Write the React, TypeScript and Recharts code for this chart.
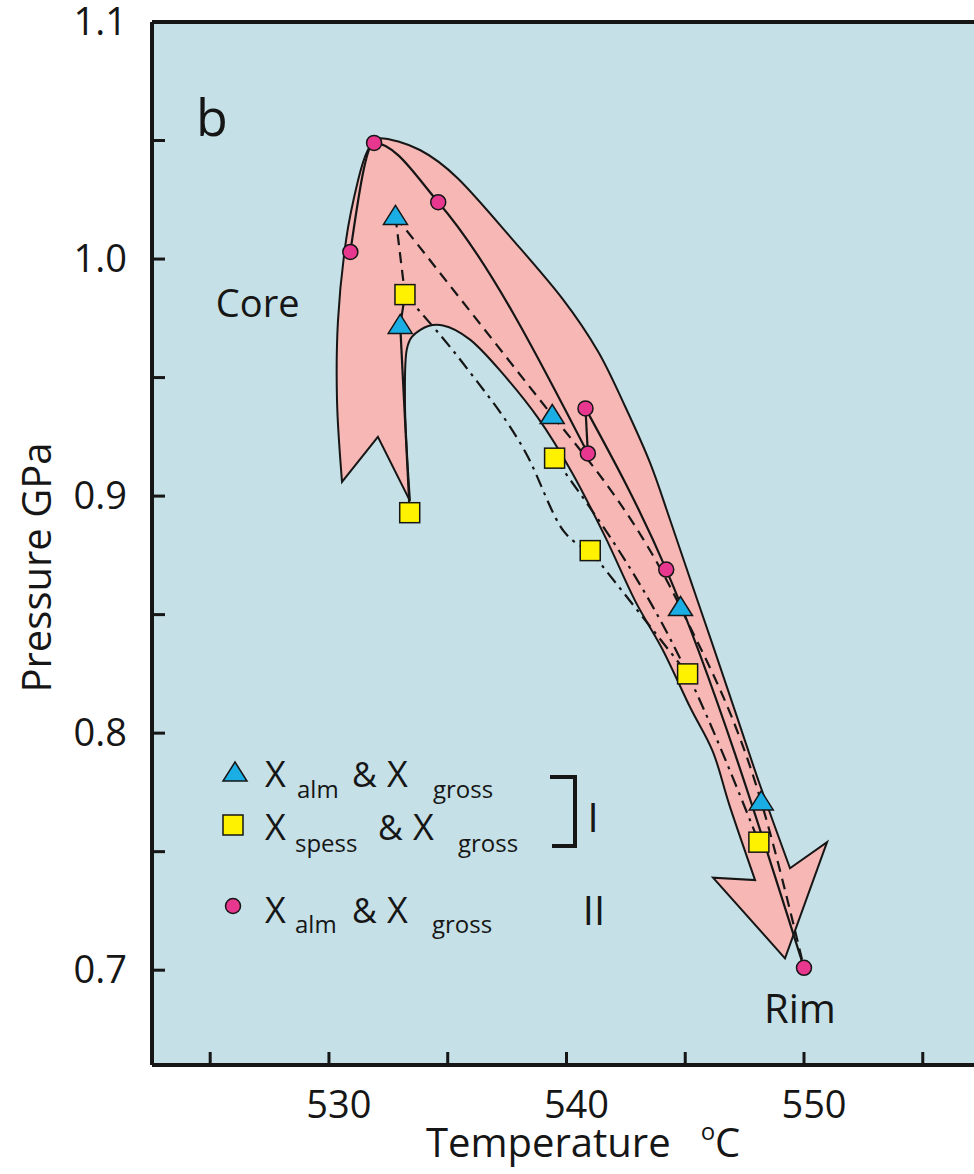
import { ComposedChart, Scatter, XAxis, YAxis, CartesianGrid, ReferenceDot, Legend } from "recharts";

type Pt = { t: number; p: number };

const tempTicks = [525, 530, 535, 540, 545, 550, 555];
const tempLabels = [530, 540, 550];
const pressTicks = [0.7, 0.75, 0.8, 0.85, 0.9, 0.95, 1.0, 1.05, 1.1];
const pressLabels = [0.7, 0.8, 0.9, 1.0, 1.1];

// group I, X alm & X gross (triangles)
const almGrossI: Pt[] = [
  { t: 532.8, p: 1.018 },
  { t: 533.0, p: 0.972 },
  { t: 539.4, p: 0.934 },
  { t: 544.8, p: 0.853 },
  { t: 548.2, p: 0.771 },
];

// group I, X spess & X gross (squares)
const spessGrossI: Pt[] = [
  { t: 533.2, p: 0.985 },
  { t: 533.4, p: 0.893 },
  { t: 539.5, p: 0.916 },
  { t: 541.0, p: 0.877 },
  { t: 545.1, p: 0.825 },
  { t: 548.1, p: 0.754 },
];

// group II, X alm & X gross (circles)
const almGrossII: Pt[] = [
  { t: 530.9, p: 1.003 },
  { t: 531.9, p: 1.049 },
  { t: 534.6, p: 1.024 },
  { t: 540.8, p: 0.937 },
  { t: 540.9, p: 0.918 },
  { t: 544.2, p: 0.869 },
  { t: 550.0, p: 0.701 },
];

// where the dash-dot path bends under the arrow
const spessBend: Pt[] = [
  { t: 535.8, p: 0.954 },
  { t: 538.3, p: 0.918 },
  { t: 539.9, p: 0.885 },
];

// outline of the P-T arrow, clockwise from the top
const arrowOutline: Pt[] = [
  { t: 532.15, p: 1.051 },
  { t: 533.83, p: 1.046 },
  { t: 535.43, p: 1.034 },
  { t: 537.75, p: 1.008 },
  { t: 539.85, p: 0.983 },
  { t: 541.33, p: 0.961 },
  { t: 542.46, p: 0.938 },
  { t: 543.52, p: 0.914 },
  { t: 544.36, p: 0.890 },
  { t: 545.24, p: 0.864 },
  { t: 546.13, p: 0.838 },
  { t: 547.14, p: 0.808 },
  { t: 548.15, p: 0.778 },
  { t: 549.41, p: 0.743 },
  { t: 550.97, p: 0.754 },
  { t: 549.2, p: 0.705 },
  { t: 546.17, p: 0.739 },
  { t: 547.94, p: 0.738 },
  { t: 546.88, p: 0.769 },
  { t: 546.17, p: 0.792 },
  { t: 545.2, p: 0.811 },
  { t: 544.06, p: 0.835 },
  { t: 542.88, p: 0.856 },
  { t: 541.62, p: 0.883 },
  { t: 540.23, p: 0.910 },
  { t: 538.8, p: 0.933 },
  { t: 537.2, p: 0.953 },
  { t: 535.94, p: 0.966 },
  { t: 534.8, p: 0.972 },
  { t: 533.83, p: 0.970 },
  { t: 533.28, p: 0.962 },
  { t: 533.2, p: 0.940 },
  { t: 533.28, p: 0.919 },
  { t: 533.41, p: 0.898 },
  { t: 532.06, p: 0.925 },
  { t: 530.55, p: 0.906 },
  { t: 530.34, p: 0.940 },
  { t: 530.38, p: 0.974 },
  { t: 530.72, p: 1.008 },
  { t: 531.22, p: 1.033 },
  { t: 531.64, p: 1.046 },
];
const arrowCorners = [13, 14, 15, 16, 17, 33, 34, 35];

const solidPaths: Pt[][] = [
  [almGrossII[0], almGrossII[1], almGrossII[2], almGrossII[4]],
  [almGrossII[3], almGrossII[4]],
  [almGrossII[3], almGrossII[5], almGrossII[6]],
  [spessGrossI[0], almGrossI[1]],
  [almGrossI[1], spessGrossI[1]],
];
const dashedPaths: Pt[][] = [
  [almGrossI[0], spessGrossI[0]],
  [almGrossI[0], almGrossI[2]],
  [almGrossI[2], almGrossI[3], almGrossI[4], almGrossII[6]],
];
const dashDotPaths: Pt[][] = [
  [spessGrossI[0], ...spessBend, spessGrossI[3]],
  [spessGrossI[2], spessGrossI[4], spessGrossI[5]],
  [spessGrossI[3], spessGrossI[4]],
];

const INK = "#161616";
const BG = "#c5e0e6";
const PINK = "#f7b8b5";
const BLUE = "#1aaee5";
const YELLOW = "#fff200";
const MAGENTA = "#e8378f";
const FONT = "'Open Sans', 'Noto Sans', sans-serif";

const T_DOMAIN: [number, number] = [522.55, 557.62];
const P_DOMAIN: [number, number] = [0.66, 1.1];

// smooth closed path, sharp at the arrow tips and notches
function arrowPath(pts: { x: number; y: number }[]) {
  const n = pts.length;
  if (!n) return "";
  const at = (i: number) => pts[(i + n) % n];
  const sharp = (i: number) => arrowCorners.includes((i + n) % n);
  let d = `M${pts[0].x},${pts[0].y}`;
  for (let i = 0; i < n; i++) {
    const p0 = at(i - 1), p1 = at(i), p2 = at(i + 1), p3 = at(i + 2);
    const c1 = sharp(i) ? p1 : { x: p1.x + (p2.x - p0.x) / 6, y: p1.y + (p2.y - p0.y) / 6 };
    const c2 = sharp(i + 1) ? p2 : { x: p2.x - (p3.x - p1.x) / 6, y: p2.y - (p3.y - p1.y) / 6 };
    d += ` C${c1.x},${c1.y} ${c2.x},${c2.y} ${p2.x},${p2.y}`;
  }
  return d + " Z";
}

const hidden = () => <g />;

const triangleAt = (cx: number, cy: number) => (
  <polygon points={`${cx},${cy - 11} ${cx + 12},${cy + 8} ${cx - 12},${cy + 8}`} fill={BLUE} stroke={INK} strokeWidth={1.5} />
);
const squareAt = (cx: number, cy: number) => (
  <rect x={cx - 10} y={cy - 10} width={20} height={20} fill={YELLOW} stroke={INK} strokeWidth={1.5} />
);
const circleAt = (cx: number, cy: number) => <circle cx={cx} cy={cy} r={7.5} fill={MAGENTA} stroke={INK} strokeWidth={1.5} />;

const TriangleShape = (props: any) => triangleAt(props.cx, props.cy);
const SquareShape = (props: any) => squareAt(props.cx, props.cy);
const CircleShape = (props: any) => circleAt(props.cx, props.cy);

const XTick = (props: any) => {
  const { x, y, payload } = props;
  if (!tempLabels.includes(payload.value)) return <g />;
  return (
    <text x={x + 10} y={y + 28} textAnchor="middle" fontSize={38} fill={INK} fontFamily={FONT}>
      {payload.value}
    </text>
  );
};

const YTick = (props: any) => {
  const { x, y, payload } = props;
  if (!pressLabels.some((v) => Math.abs(v - payload.value) < 1e-6)) return <g />;
  return (
    <text x={x} y={y + 13} textAnchor="end" fontSize={38} fill={INK} fontFamily={FONT}>
      {Number(payload.value).toFixed(1)}
    </text>
  );
};

const TempTitle = (props: any) => {
  const vb = props.viewBox || { x: 152, y: 1065 };
  return (
    <text x={vb.x + 274} y={vb.y + 92} fontSize={40} fill={INK} fontFamily={FONT}>
      Temperature
      <tspan dx={30} dy={-17} fontSize={24}>o</tspan>
      <tspan dy={17} fontSize={40}>C</tspan>
    </text>
  );
};

const PressTitle = (props: any) => {
  const vb = props.viewBox || { x: 0, y: 22, height: 1043 };
  const cx = vb.x + 35;
  const cy = vb.y + vb.height / 2 + 24;
  return (
    <text x={cx} y={cy} transform={`rotate(-90 ${cx} ${cy})`} textAnchor="middle" dominantBaseline="central" fontSize={40} fill={INK} fontFamily={FONT}>
      Pressure GPa
    </text>
  );
};

const LegendBox = () => (
  <svg width={460} height={220} style={{ overflow: "visible", fontFamily: FONT }}>
    {triangleAt(55, 33)}
    <text x={85} y={47} fontSize={36} fill={INK}>X</text>
    <text x={117} y={58} fontSize={24} fill={INK}>alm</text>
    <text x={172} y={47} fontSize={34} fill={INK}>&amp;</text>
    <text x={207} y={47} fontSize={36} fill={INK}>X</text>
    <text x={253} y={58} fontSize={24} fill={INK}>gross</text>

    {squareAt(53, 85)}
    <text x={85} y={100} fontSize={36} fill={INK}>X</text>
    <text x={115} y={112} fontSize={24} fill={INK}>spess</text>
    <text x={198} y={100} fontSize={34} fill={INK}>&amp;</text>
    <text x={233} y={100} fontSize={36} fill={INK}>X</text>
    <text x={278} y={112} fontSize={24} fill={INK}>gross</text>

    {circleAt(53, 166)}
    <text x={85} y={183} fontSize={36} fill={INK}>X</text>
    <text x={115} y={193} fontSize={24} fill={INK}>alm</text>
    <text x={172} y={183} fontSize={34} fill={INK}>&amp;</text>
    <text x={207} y={183} fontSize={36} fill={INK}>X</text>
    <text x={252} y={193} fontSize={24} fill={INK}>gross</text>

    <path d="M370,37 H395 V106 H372" fill="none" stroke={INK} strokeWidth={4} />
    <text x={413} y={92} textAnchor="middle" fontSize={40} fill={INK}>I</text>
    <text x={414} y={185} textAnchor="middle" fontSize={40} fill={INK}>II</text>
  </svg>
);

const lineStyle = (dash?: string) => ({ stroke: INK, strokeWidth: 2.2, strokeDasharray: dash, fill: "none" });

export default function PTPathChart() {
  const axisLine = { stroke: INK, strokeWidth: 4 };
  const tickLine = { stroke: INK, strokeWidth: 3 };

  return (
    <div style={{ position: "absolute", left: 0, top: 0, width: 974, height: 1174, overflow: "hidden", background: "#fff" }}>
      <ComposedChart width={1000} height={1174} margin={{ top: 0, right: 0, bottom: 0, left: 0 }} style={{ fontFamily: FONT }}>
        <CartesianGrid xAxisId="b" yAxisId="l" fill={BG} stroke="none" horizontal={false} vertical={false} />
        <XAxis
          xAxisId="b" orientation="bottom" type="number" dataKey="t" domain={T_DOMAIN} allowDataOverflow
          ticks={tempTicks} interval={0} height={109} tickSize={-13} tickMargin={38}
          axisLine={axisLine} tickLine={tickLine} tick={XTick} label={{ content: TempTitle }}
        />
        <XAxis
          xAxisId="t" orientation="top" type="number" dataKey="t" domain={T_DOMAIN} allowDataOverflow
          ticks={tempTicks} interval={0} height={22} tickSize={-13} axisLine={axisLine} tickLine={tickLine} tick={false}
        />
        <YAxis
          yAxisId="l" orientation="left" type="number" dataKey="p" domain={P_DOMAIN} allowDataOverflow
          ticks={pressTicks} interval={0} width={152} tickSize={-13} tickMargin={38}
          axisLine={axisLine} tickLine={tickLine} tick={YTick} label={{ content: PressTitle }}
        />
        <YAxis
          yAxisId="r" orientation="right" type="number" dataKey="p" domain={P_DOMAIN} allowDataOverflow
          ticks={pressTicks} interval={0} width={15} tickSize={-13} axisLine={axisLine} tickLine={tickLine} tick={false}
        />

        <Scatter
          xAxisId="b" yAxisId="l" data={arrowOutline} shape={hidden} legendType="none" isAnimationActive={false}
          line={(lp: any) => <path d={arrowPath(lp.points || [])} fill={PINK} stroke={INK} strokeWidth={2} strokeLinejoin="miter" />}
        />

        {solidPaths.map((path, i) => (
          <Scatter key={`s${i}`} xAxisId="b" yAxisId="l" data={path} shape={hidden} legendType="none" isAnimationActive={false}
            line={lineStyle()} lineJointType={path.length > 2 ? "monotoneX" : "linear"} />
        ))}
        {dashedPaths.map((path, i) => (
          <Scatter key={`d${i}`} xAxisId="b" yAxisId="l" data={path} shape={hidden} legendType="none" isAnimationActive={false}
            line={lineStyle("11 7")} lineJointType={path.length > 2 ? "monotoneX" : "linear"} />
        ))}
        {dashDotPaths.map((path, i) => (
          <Scatter key={`dd${i}`} xAxisId="b" yAxisId="l" data={path} shape={hidden} legendType="none" isAnimationActive={false}
            line={lineStyle("13 6 3 6")} lineJointType={path.length > 2 ? "monotoneX" : "linear"} />
        ))}

        <Scatter name="Xspess & Xgross I" xAxisId="b" yAxisId="l" data={spessGrossI} shape={SquareShape} legendType="square" isAnimationActive={false} />
        <Scatter name="Xalm & Xgross I" xAxisId="b" yAxisId="l" data={almGrossI} shape={TriangleShape} legendType="triangle" isAnimationActive={false} />
        <Scatter name="Xalm & Xgross II" xAxisId="b" yAxisId="l" data={almGrossII} shape={CircleShape} legendType="circle" isAnimationActive={false} />

        <ReferenceDot xAxisId="b" yAxisId="l" x={525.07} y={1.0595} r={0} fill="none" stroke="none"
          label={{ value: "b", position: "center", fontSize: 52, fill: INK, fontFamily: FONT }} />
        <ReferenceDot xAxisId="b" yAxisId="l" x={527.0} y={0.9814} r={0} fill="none" stroke="none"
          label={{ value: "Core", position: "center", fontSize: 38, fill: INK, fontFamily: FONT }} />
        <ReferenceDot xAxisId="b" yAxisId="l" x={549.83} y={0.6835} r={0} fill="none" stroke="none"
          label={{ value: "Rim", position: "center", fontSize: 40, fill: INK, fontFamily: FONT }} />

        <Legend layout="vertical" align="center" verticalAlign="middle" content={LegendBox}
          wrapperStyle={{ left: 180, top: 740, width: 460, height: 220, margin: 0 }} />
      </ComposedChart>
    </div>
  );
}
